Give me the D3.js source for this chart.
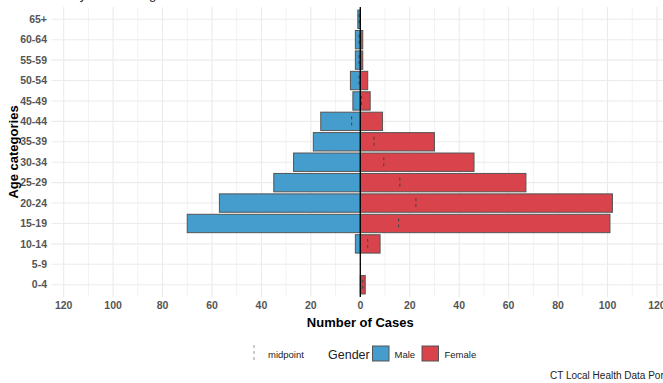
<!DOCTYPE html>
<html><head><meta charset="utf-8">
<script src="https://cdn.jsdelivr.net/npm/d3@7"></script>
<style>html,body{margin:0;padding:0;background:#fff;overflow:hidden}</style>
</head><body>
<svg id="chart" width="663" height="383"></svg>
<script>
const ages = ["0-4","5-9","10-14","15-19","20-24","25-29","30-34","35-39","40-44","45-49","50-54","55-59","60-64","65+"];
const maleCases = [0,0,2,70,57,35,27,19,16,3,4,2,2,1];
const femaleCases = [2,0,8,101,102,67,46,30,9,4,3,1,1,0];
const majorTicks = [-120,-100,-80,-60,-40,-20,0,20,40,60,80,100,120];
const minorTicks = [-110,-90,-70,-50,-30,-10,10,30,50,70,90,110];

const svg = d3.select("#chart");
const font = "Liberation Sans, Arial, sans-serif";
const panelTop = 7, panelBottom = 297;
const x = d3.scaleLinear().domain([-125,125]).range([51.3,669.3]);
const y = d3.scalePoint().domain(ages).range([panelBottom, panelTop]).padding(0.6);
const bh = y.step()*0.9;

// title (mostly cut off)
svg.append("text").attr("x",32).attr("y",-1).attr("font-family",font).attr("font-size",13)
  .attr("fill","#222").text("Cases by Sex and Age");

// gridlines
svg.append("g").selectAll("line").data(minorTicks).join("line")
  .attr("x1",d=>x(d)).attr("x2",d=>x(d)).attr("y1",panelTop).attr("y2",panelBottom)
  .attr("stroke","#f2f2f2").attr("stroke-width",1);
svg.append("g").selectAll("line").data(majorTicks).join("line")
  .attr("x1",d=>x(d)).attr("x2",d=>x(d)).attr("y1",panelTop).attr("y2",panelBottom)
  .attr("stroke","#ebebeb").attr("stroke-width",1.1);
svg.append("g").selectAll("line").data(ages).join("line")
  .attr("x1",x(-125)).attr("x2",663).attr("y1",d=>y(d)).attr("y2",d=>y(d))
  .attr("stroke","#ebebeb").attr("stroke-width",1.1);

const rows = ages.map((a,i)=>({age:a, m:maleCases[i], f:femaleCases[i]}));

// bars
svg.append("g").selectAll("rect").data(rows.filter(d=>d.m>0)).join("rect")
  .attr("x",d=>x(-d.m)).attr("width",d=>x(0)-x(-d.m))
  .attr("y",d=>y(d.age)-bh/2).attr("height",bh)
  .attr("fill","#449dcc").attr("stroke","#555").attr("stroke-width",1);
svg.append("g").selectAll("rect").data(rows.filter(d=>d.f>0)).join("rect")
  .attr("x",x(0)).attr("width",d=>x(d.f)-x(0))
  .attr("y",d=>y(d.age)-bh/2).attr("height",bh)
  .attr("fill","#d9434b").attr("stroke","#555").attr("stroke-width",1);

// midpoints
svg.append("g").selectAll("line").data(rows.filter(d=>d.m>0||d.f>0)).join("line")
  .attr("x1",d=>x((d.f-d.m)/2)).attr("x2",d=>x((d.f-d.m)/2))
  .attr("y1",d=>y(d.age)-5).attr("y2",d=>y(d.age)+5)
  .attr("stroke","#444").attr("stroke-width",1).attr("stroke-dasharray","3,3");

// zero line
svg.append("line").attr("x1",x(0)).attr("x2",x(0)).attr("y1",panelTop).attr("y2",panelBottom)
  .attr("stroke","#000").attr("stroke-width",1.3);

// y labels
svg.append("g").selectAll("text").data(ages).join("text")
  .attr("x",47).attr("y",d=>y(d)).attr("dy","0.35em").attr("text-anchor","end")
  .attr("font-family",font).attr("font-size",10.5).attr("font-weight","bold")
  .attr("fill","#555").text(d=>d);
// x labels
svg.append("g").selectAll("text").data(majorTicks).join("text")
  .attr("x",d=>x(d)).attr("y",309).attr("text-anchor","middle")
  .attr("font-family",font).attr("font-size",10.5).attr("font-weight","bold")
  .attr("fill","#555").text(d=>Math.abs(d));

svg.append("text").attr("x",x(0)).attr("y",327).attr("text-anchor","middle")
  .attr("font-family",font).attr("font-size",13).attr("font-weight","bold")
  .attr("fill","#000").text("Number of Cases");
svg.append("text").attr("transform",`translate(18,${(panelTop+panelBottom)/2}) rotate(-90)`)
  .attr("text-anchor","middle").attr("font-family",font).attr("font-size",13)
  .attr("font-weight","bold").attr("fill","#000").text("Age categories");

// legend
const lg = svg.append("g");
lg.append("line").attr("x1",254).attr("x2",254).attr("y1",345).attr("y2",361)
  .attr("stroke","#999").attr("stroke-width",1).attr("stroke-dasharray","3,3");
lg.append("text").attr("x",268).attr("y",358).attr("font-family",font).attr("font-size",9.5)
  .attr("fill","#222").text("midpoint");
lg.append("text").attr("x",328).attr("y",359).attr("font-family",font).attr("font-size",12.5)
  .attr("fill","#222").text("Gender");
lg.append("rect").attr("x",372.5).attr("y",346).attr("width",16.5).attr("height",15)
  .attr("fill","#449dcc").attr("stroke","#555");
lg.append("text").attr("x",394.5).attr("y",358).attr("font-family",font).attr("font-size",9.5)
  .attr("fill","#222").text("Male");
lg.append("rect").attr("x",422).attr("y",346).attr("width",16.5).attr("height",15)
  .attr("fill","#d9434b").attr("stroke","#555");
lg.append("text").attr("x",444.5).attr("y",358).attr("font-family",font).attr("font-size",9.5)
  .attr("fill","#222").text("Female");

svg.append("text").attr("x",550).attr("y",379).attr("font-family",font).attr("font-size",10)
  .attr("fill","#222").text("CT Local Health Data Portal");
</script>
</body></html>
